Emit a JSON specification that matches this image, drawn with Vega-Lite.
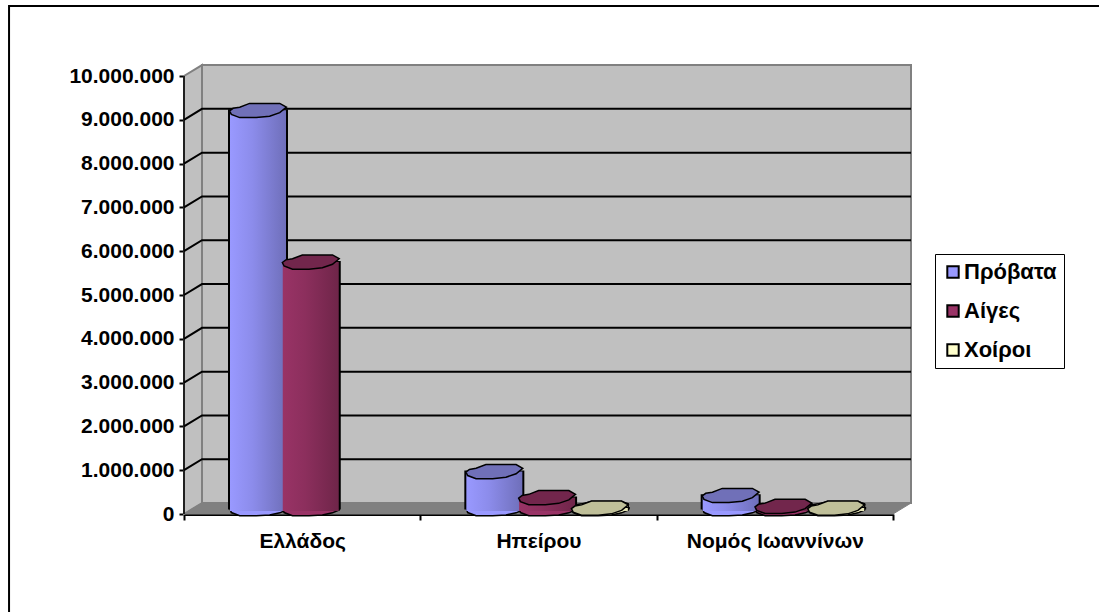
{
"$schema":"https://vega.github.io/schema/vega-lite/v6.json",
"width":727,"height":450,
"autosize":{"type":"none"},
"padding":{"left":184,"top":64,"right":188,"bottom":98},
"background":"white",
"config":{"view":{"stroke":null},"font":"Liberation Sans"},
"datasets":{
"animals":[
{"region":"Ελλάδος","animal":"Πρόβατα","head":9090000},
{"region":"Ελλάδος","animal":"Αίγες","head":5630000},
{"region":"Ελλάδος","animal":"Χοίροι","head":0},
{"region":"Ηπείρου","animal":"Πρόβατα","head":845000},
{"region":"Ηπείρου","animal":"Αίγες","head":250000},
{"region":"Ηπείρου","animal":"Χοίροι","head":10000},
{"region":"Νομός Ιωαννίνων","animal":"Πρόβατα","head":300000},
{"region":"Νομός Ιωαννίνων","animal":"Αίγες","head":50000},
{"region":"Νομός Ιωαννίνων","animal":"Χοίροι","head":10000}
],
"sideWall":[{"depth":0,"low":0,"high":10000000},{"depth":1,"low":250000,"high":10250000}],
"backWall":[{"x1":1,"x2":40.39,"low":250000,"high":10250000}],
"floor":[{"depth":0,"low":0,"high":0},{"depth":1,"low":0,"high":250000},{"depth":39.39,"low":0,"high":250000},{"depth":40.39,"low":250000,"high":250000}],
"frame":[{"x1":-9.72,"x2":51.5,"low":-2500000,"high":11598000}],
"frontEdge":[{"depth":0,"low":0,"high":10000000}],
"grid":[
{"level":1000000,"depth":0,"v":1000000},{"level":1000000,"depth":1,"v":1250000},{"level":1000000,"depth":40.39,"v":1250000},
{"level":2000000,"depth":0,"v":2000000},{"level":2000000,"depth":1,"v":2250000},{"level":2000000,"depth":40.39,"v":2250000},
{"level":3000000,"depth":0,"v":3000000},{"level":3000000,"depth":1,"v":3250000},{"level":3000000,"depth":40.39,"v":3250000},
{"level":4000000,"depth":0,"v":4000000},{"level":4000000,"depth":1,"v":4250000},{"level":4000000,"depth":40.39,"v":4250000},
{"level":5000000,"depth":0,"v":5000000},{"level":5000000,"depth":1,"v":5250000},{"level":5000000,"depth":40.39,"v":5250000},
{"level":6000000,"depth":0,"v":6000000},{"level":6000000,"depth":1,"v":6250000},{"level":6000000,"depth":40.39,"v":6250000},
{"level":7000000,"depth":0,"v":7000000},{"level":7000000,"depth":1,"v":7250000},{"level":7000000,"depth":40.39,"v":7250000},
{"level":8000000,"depth":0,"v":8000000},{"level":8000000,"depth":1,"v":8250000},{"level":8000000,"depth":40.39,"v":8250000},
{"level":9000000,"depth":0,"v":9000000},{"level":9000000,"depth":1,"v":9250000},{"level":9000000,"depth":40.39,"v":9250000}
]
},
"layer":[
{"data":{"name":"frame"},"mark":{"type":"rect","fill":null,"stroke":"black","strokeWidth":2,"clip":false},
 "encoding":{"x":{"field":"x1","type":"quantitative","scale":{"domain":[0,40.39],"range":[0,727]},"axis":null},"x2":{"field":"x2"},
 "y":{"field":"low","type":"quantitative","scale":{"domain":[0,10274000],"range":[450,0],"nice":false,"zero":false},"axis":{"values":[0,1000000,2000000,3000000,4000000,5000000,6000000,7000000,8000000,9000000,10000000],"title":null,"grid":false,"domain":false,"tickColor":"black","tickWidth":2,"tickSize":5,"labelFont":"Liberation Sans","labelFontWeight":"bold","labelFontSize":21,"labelColor":"black","labelPadding":5,"labelExpr":"replace(format(datum.value,','),/,/g,'.')"}},"y2":{"field":"high"}}},
{"data":{"name":"sideWall"},"mark":{"type":"area","fill":"#c0c0c0","stroke":"#808080","strokeWidth":2},
 "encoding":{"x":{"field":"depth","type":"quantitative","scale":{"domain":[0,40.39],"range":[0,727]},"axis":null},"y":{"field":"low","type":"quantitative"},"y2":{"field":"high"}}},
{"data":{"name":"backWall"},"mark":{"type":"rect","fill":"#c0c0c0","stroke":"#808080","strokeWidth":2},
 "encoding":{"x":{"field":"x1","type":"quantitative","scale":{"domain":[0,40.39],"range":[0,727]},"axis":null},"x2":{"field":"x2"},"y":{"field":"low","type":"quantitative"},"y2":{"field":"high"}}},
{"data":{"name":"floor"},"mark":{"type":"area","fill":"#808080","stroke":"#808080","strokeWidth":1},
 "encoding":{"x":{"field":"depth","type":"quantitative","scale":{"domain":[0,40.39],"range":[0,727]},"axis":null},"y":{"field":"low","type":"quantitative"},"y2":{"field":"high"}}},
{"data":{"name":"grid"},"mark":{"type":"line","stroke":"black","strokeWidth":2},
 "encoding":{"x":{"field":"depth","type":"quantitative","scale":{"domain":[0,40.39],"range":[0,727]},"axis":null},"y":{"field":"v","type":"quantitative"},"detail":{"field":"level"}}},
{"data":{"name":"frontEdge"},"mark":{"type":"rule","stroke":"black","strokeWidth":1.5},
 "encoding":{"x":{"field":"depth","type":"quantitative","scale":{"domain":[0,40.39],"range":[0,727]},"axis":null},"y":{"field":"low","type":"quantitative"},"y2":{"field":"high"}}},
{"data":{"name":"animals"},
 "transform":[{"filter":"datum.head>0"}],
 "layer":[
  {"mark":{"type":"point","filled":true,"shape":"M-.98 -.05L-.86 -.12L-.63 -.16L-.29 -.24L.75 -.24L.98 -.16L.98 .05L.75 .15L.4 .22L-.06 .25L-.63 .25L-.92 .14Z","size":3364,"stroke":"black","strokeWidth":1.5,"opacity":1,"yOffset":-5.5},
   "encoding":{"x":{"field":"region","type":"nominal","sort":null,"scale":{"domain":["Ελλάδος","Ηπείρου","Νομός Ιωαννίνων"],"range":[0,709],"paddingInner":0,"paddingOuter":0},"axis":{"title":null,"labelAngle":0,"tickBand":"extent","labelFont":"Liberation Sans","labelFontWeight":"bold","labelFontSize":21,"labelColor":"black","tickColor":"black","tickWidth":2,"tickSize":6,"domainColor":"black","domainWidth":3,"labelPadding":10}},
    "xOffset":{"field":"animal","type":"nominal","scale":{"type":"point","padding":0,"domain":["Πρόβατα","Αίγες","Χοίροι"],"range":[74,179.5]}},
    "y":{"datum":0,"type":"quantitative"},
    "color":{"field":"animal","type":"nominal","scale":{"domain":["Πρόβατα","Αίγες","Χοίροι"],"range":["#9999ff","#993366","#ffffcc"]},
     "legend":{"title":null,"orient":"none","legendX":751,"legendY":190,"symbolType":"square","symbolSize":130,"symbolStrokeColor":"black","symbolStrokeWidth":2,"symbolOpacity":1,"labelFont":"Liberation Sans","labelFontWeight":"bold","labelFontSize":22,"labelColor":"black","strokeColor":"black","fillColor":"white","padding":7,"rowPadding":17,"cornerRadius":0,"labelOffset":0}}}},
  {"mark":{"type":"bar","width":58,"fill":"black","stroke":"black","strokeWidth":2,"yOffset":-5.5,"y2Offset":-5.5},
   "encoding":{"x":{"field":"region","type":"nominal"},"xOffset":{"field":"animal","type":"nominal"},"y":{"field":"head","type":"quantitative"},"y2":{"datum":0}}},
  {"transform":[{"filter":"datum.animal==='Πρόβατα'"}],
   "mark":{"type":"bar","width":56,"yOffset":-5.5,"y2Offset":-3,"color":{"gradient":"linear","x1":0,"x2":1,"y1":0,"y2":0,"stops":[{"offset":0,"color":"#9999ff"},{"offset":0.4,"color":"#8c8ceb"},{"offset":1,"color":"#6f6fba"}]}},
   "encoding":{"x":{"field":"region","type":"nominal"},"xOffset":{"field":"animal","type":"nominal"},"y":{"field":"head","type":"quantitative"},"y2":{"datum":0}}},
  {"transform":[{"filter":"datum.animal==='Αίγες'"}],
   "mark":{"type":"bar","width":56,"yOffset":-5.5,"y2Offset":-3,"color":{"gradient":"linear","x1":0,"x2":1,"y1":0,"y2":0,"stops":[{"offset":0,"color":"#993366"},{"offset":0.4,"color":"#8c2f5d"},{"offset":1,"color":"#6f2549"}]}},
   "encoding":{"x":{"field":"region","type":"nominal"},"xOffset":{"field":"animal","type":"nominal"},"y":{"field":"head","type":"quantitative"},"y2":{"datum":0}}},
  {"transform":[{"filter":"datum.animal==='Χοίροι'"}],
   "mark":{"type":"bar","width":56,"yOffset":-5.5,"y2Offset":-3,"color":"#e5e5b5"},
   "encoding":{"x":{"field":"region","type":"nominal"},"xOffset":{"field":"animal","type":"nominal"},"y":{"field":"head","type":"quantitative"},"y2":{"datum":0}}},
  {"mark":{"type":"point","filled":true,"shape":"M-.98 .02L-.86 -.07L-.63 -.11L-.29 -.24L.75 -.24L.98 -.11L.75 .08L.4 .2L-.06 .25L-.63 .25L-.92 .14Z","size":3364,"stroke":"black","strokeWidth":1.5,"opacity":1,"yOffset":-5.5},
   "encoding":{"x":{"field":"region","type":"nominal"},"xOffset":{"field":"animal","type":"nominal"},"y":{"field":"head","type":"quantitative"},
    "fill":{"field":"animal","type":"nominal","scale":{"domain":["Πρόβατα","Αίγες","Χοίροι"],"range":["#7070b8","#72264c","#bfbf99"]},"legend":null}}}
 ]}
],
"resolve":{"scale":{"x":"independent","fill":"independent","color":"independent"}}
}
